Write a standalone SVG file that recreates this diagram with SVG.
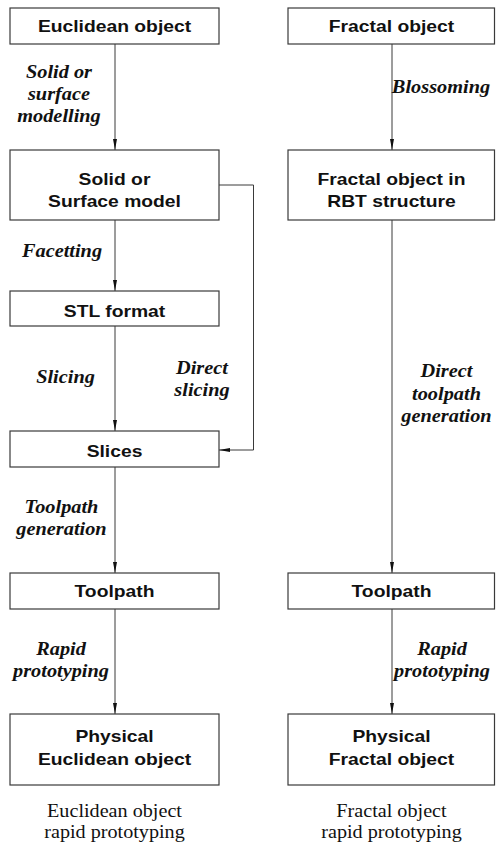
<svg xmlns="http://www.w3.org/2000/svg" width="496" height="848" viewBox="0 0 496 848">
<style>
.box{fill:#fff;stroke:#3a3a3a;stroke-width:1.2}
.b{font-family:"Liberation Sans",Arial,sans-serif;font-weight:bold;font-size:16.5px;fill:#111;text-anchor:middle}
.i{font-family:"Liberation Serif","Times New Roman",serif;font-weight:bold;font-style:italic;font-size:18px;fill:#111;text-anchor:middle}
.c{font-family:"Liberation Serif","Times New Roman",serif;font-size:18px;fill:#111;text-anchor:middle}
.ln{fill:none;stroke:#3a3a3a;stroke-width:1}
</style>
<defs>
<marker id="ah" viewBox="0 0 11 4" refX="11" refY="2" markerWidth="11" markerHeight="4" orient="auto" markerUnits="userSpaceOnUse">
<path d="M0,0 L11,2 L0,4 Z" fill="#111"/>
</marker>
</defs>
<rect width="496" height="848" fill="#fff"/>
<g id="connectors">
<line class="ln" x1="115" y1="44" x2="115" y2="150" marker-end="url(#ah)"/>
<line class="ln" x1="115" y1="220" x2="115" y2="291" marker-end="url(#ah)"/>
<line class="ln" x1="115" y1="326" x2="115" y2="431" marker-end="url(#ah)"/>
<line class="ln" x1="115" y1="467" x2="115" y2="573" marker-end="url(#ah)"/>
<line class="ln" x1="115" y1="609" x2="115" y2="714" marker-end="url(#ah)"/>
<polyline class="ln" points="219,185 253.5,185 253.5,450 219,450" marker-end="url(#ah)"/>
<line class="ln" x1="392" y1="44" x2="392" y2="150" marker-end="url(#ah)"/>
<line class="ln" x1="392" y1="220" x2="392" y2="573" marker-end="url(#ah)"/>
<line class="ln" x1="392" y1="609" x2="392" y2="714" marker-end="url(#ah)"/>
</g>
<g id="edge-labels">
<text class="i" transform="translate(59 78) scale(1.13 1)">Solid or</text>
<text class="i" transform="translate(59 100) scale(1.13 1)">surface</text>
<text class="i" transform="translate(59 122) scale(1.13 1)">modelling</text>
<text class="i" transform="translate(441 93) scale(1.13 1)">Blossoming</text>
<text class="i" transform="translate(62 257) scale(1.13 1)">Facetting</text>
<text class="i" transform="translate(65.5 383) scale(1.13 1)">Slicing</text>
<text class="i" transform="translate(202 374) scale(1.13 1)">Direct</text>
<text class="i" transform="translate(202 396) scale(1.13 1)">slicing</text>
<text class="i" transform="translate(446.5 377) scale(1.13 1)">Direct</text>
<text class="i" transform="translate(446.5 399.5) scale(1.13 1)">toolpath</text>
<text class="i" transform="translate(446.5 422) scale(1.13 1)">generation</text>
<text class="i" transform="translate(61.5 513) scale(1.13 1)">Toolpath</text>
<text class="i" transform="translate(61.5 535) scale(1.13 1)">generation</text>
<text class="i" transform="translate(61 655) scale(1.13 1)">Rapid</text>
<text class="i" transform="translate(61 677) scale(1.13 1)">prototyping</text>
<text class="i" transform="translate(442 655) scale(1.13 1)">Rapid</text>
<text class="i" transform="translate(442 677) scale(1.13 1)">prototyping</text>
</g>
<g id="euclidean-object">
<rect class="box" x="10" y="8" width="209" height="36"/>
<text class="b" transform="translate(114.5 32) scale(1.17 1)">Euclidean object</text>
</g>
<g id="solid-model">
<rect class="box" x="10" y="150" width="209" height="70"/>
<text class="b" transform="translate(114.5 184.5) scale(1.17 1)">Solid or</text>
<text class="b" transform="translate(114.5 207) scale(1.17 1)">Surface model</text>
</g>
<g id="stl-format">
<rect class="box" x="10" y="291" width="209" height="35"/>
<text class="b" transform="translate(114.5 316.5) scale(1.17 1)">STL format</text>
</g>
<g id="slices">
<rect class="box" x="10" y="431" width="209" height="36"/>
<text class="b" transform="translate(114.5 457) scale(1.17 1)">Slices</text>
</g>
<g id="toolpath-left">
<rect class="box" x="10" y="573" width="209" height="36"/>
<text class="b" transform="translate(114.5 597) scale(1.17 1)">Toolpath</text>
</g>
<g id="physical-euclidean">
<rect class="box" x="10" y="714" width="209" height="71"/>
<text class="b" transform="translate(114.5 742) scale(1.17 1)">Physical</text>
<text class="b" transform="translate(114.5 765) scale(1.17 1)">Euclidean object</text>
</g>
<g id="fractal-object">
<rect class="box" x="288" y="8" width="206.5" height="36"/>
<text class="b" transform="translate(391.5 32) scale(1.17 1)">Fractal object</text>
</g>
<g id="rbt-structure">
<rect class="box" x="288" y="150" width="206.5" height="70"/>
<text class="b" transform="translate(391.5 184.5) scale(1.17 1)">Fractal object in</text>
<text class="b" transform="translate(391.5 207) scale(1.17 1)">RBT structure</text>
</g>
<g id="toolpath-right">
<rect class="box" x="288" y="573" width="206.5" height="36"/>
<text class="b" transform="translate(391.5 597) scale(1.17 1)">Toolpath</text>
</g>
<g id="physical-fractal">
<rect class="box" x="288" y="714" width="206.5" height="71"/>
<text class="b" transform="translate(391.5 742) scale(1.17 1)">Physical</text>
<text class="b" transform="translate(391.5 765) scale(1.17 1)">Fractal object</text>
</g>
<g id="captions">
<text class="c" transform="translate(114.5 817) scale(1.12 1)">Euclidean object</text>
<text class="c" transform="translate(114.5 838) scale(1.12 1)">rapid prototyping</text>
<text class="c" transform="translate(391.5 817) scale(1.12 1)">Fractal object</text>
<text class="c" transform="translate(391.5 838) scale(1.12 1)">rapid prototyping</text>
</g>
</svg>
